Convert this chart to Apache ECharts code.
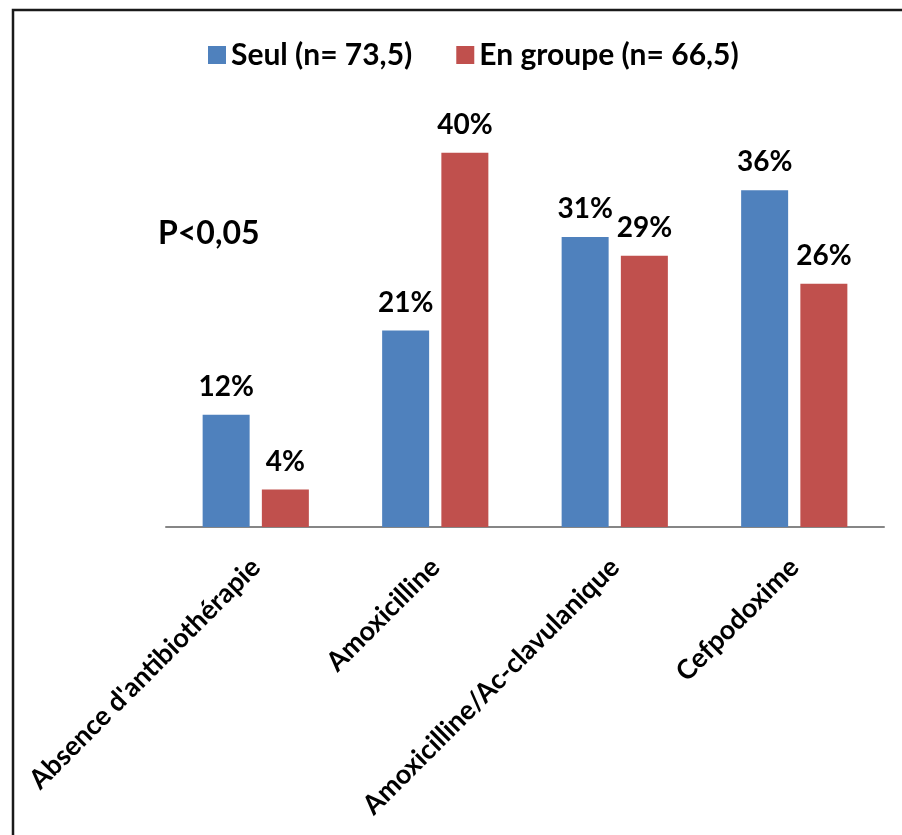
<!DOCTYPE html>
<html>
<head>
<meta charset="utf-8">
<script src="https://cdn.jsdelivr.net/npm/echarts@6/dist/echarts.min.js"></script>
<style>
  html, body { margin: 0; padding: 0; background: #fff; }
  #chart { width: 902px; height: 835px; }
</style>
</head>
<body>
<div id="chart"></div>
<script>
// Antibiotic choice, alone vs. in group (percent)
const categories = ["Absence d'antibiothérapie", "Amoxicilline", "Amoxicilline/Ac-clavulanique", "Cefpodoxime"];
const seriesNames = ["Seul (n= 73,5)", "En groupe (n= 66,5)"];
const seul = [12, 21, 31, 36];
const enGroupe = [4, 40, 29, 26];

const font = 'Lato, "Open Sans", sans-serif';
const chart = echarts.init(document.getElementById('chart'), null, { renderer: 'canvas' });

const labelStyle = {
  show: true,
  position: 'top',
  distance: 14,
  formatter: p => p.value + '%',
  color: '#000',
  fontFamily: font,
  fontWeight: 'bold',
  fontSize: 28
};

chart.setOption({
  animation: false,
  backgroundColor: '#fff',
  grid: { left: 166, right: 18, top: 106, bottom: 308, containLabel: false },
  legend: {
    top: 35,
    left: 203,
    itemWidth: 18,
    itemHeight: 18,
    itemGap: 44,
    icon: 'rect',
    textStyle: { fontFamily: font, fontWeight: 'bold', fontSize: 30, color: '#000' },
    data: seriesNames
  },
  xAxis: {
    type: 'category',
    data: categories,
    axisLine: { lineStyle: { color: '#868686', width: 2 } },
    axisTick: { show: false },
    axisLabel: {
      rotate: 45,
      interval: 0,
      margin: 36,
      color: '#000',
      fontFamily: font,
      fontWeight: 'bold',
      fontSize: 27
    }
  },
  yAxis: {
    type: 'value',
    min: 0,
    max: 45,
    show: false,
    splitLine: { show: false }
  },
  series: [
    {
      name: seriesNames[0],
      type: 'bar',
      data: seul,
      barWidth: 47,
      barGap: '26%',
      itemStyle: { color: '#4F81BD' },
      label: labelStyle
    },
    {
      name: seriesNames[1],
      type: 'bar',
      data: enGroupe,
      barWidth: 47,
      itemStyle: { color: '#C0504D' },
      label: labelStyle
    }
  ],
  graphic: [
    {
      type: 'rect',
      silent: true,
      shape: { x: 13, y: 10, width: 1000, height: 1000 },
      style: { fill: 'none', stroke: '#1a1a1a', lineWidth: 2.5 }
    },
    {
      type: 'text',
      left: 158,
      top: 218,
      style: { text: 'P<0,05', fontFamily: font, fontWeight: 'bold', fontSize: 32, fill: '#000' }
    }
  ]
});
</script>
</body>
</html>
